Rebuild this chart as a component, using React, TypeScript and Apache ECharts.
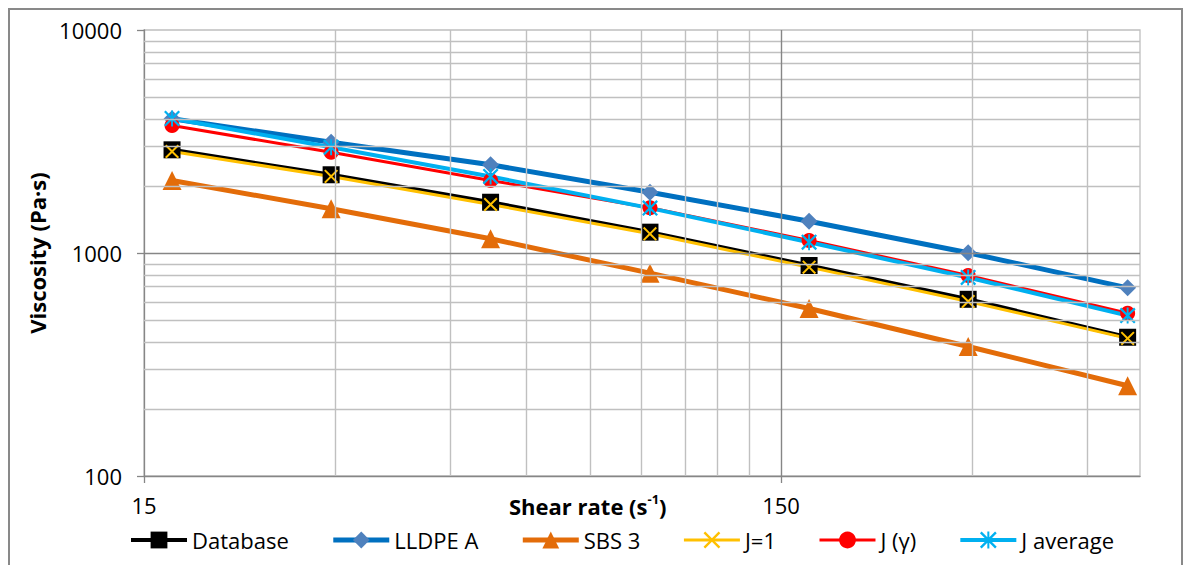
import React, { useEffect, useRef } from "react";
import * as echarts from "echarts";

// Shear rate (s^-1) at each measured point
const shearRate = [16.6, 29.5, 52.5, 93.4, 166, 295, 525];
// Viscosity (Pa·s)
const database = [2902, 2243, 1689, 1240, 879, 620, 419];
const lldpeA = [3998, 3139, 2486, 1873, 1389, 1002, 698];
const sbs3 = [2114, 1579, 1158, 812, 564, 381, 254];
const jOne = [2852, 2204, 1650, 1219, 864, 606, 414];
const jGamma = [3729, 2831, 2114, 1595, 1138, 793, 537];
const jAverage = [4010, 2980, 2204, 1590, 1118, 777, 524];

const seriesNames = ["Database", "LLDPE A", "SBS 3", "J=1", "J (γ)", "J average"];

// Axis ranges and ticks
const xMin = 15;
const xMax = 549;
const xTickLabels = [15, 150];
const yMin = 100;
const yMax = 10000;
const yTickLabels = [100, 1000, 10000];
const xMinorGrid = [30, 45, 60, 75, 90, 105, 120, 135, 300, 450];
const xMajorGrid = [150];
const yMinorGrid = [200, 300, 400, 500, 600, 700, 800, 900, 2000, 3000, 4000, 5000, 6000, 7000, 8000, 9000];
const yMajorGrid = [1000];

const FONT = "Open Sans";
const lx = (v: number) => Math.log10(v / xMin);
const ly = (v: number) => Math.log10(v);
const pts = (ys: number[]) => shearRate.map((x, i) => [lx(x), ly(ys[i])]);

const X_PATH = "M0,1L1,0L5,4L9,0L10,1L6,5L10,9L9,10L5,6L1,10L0,9L4,5Z";
const STAR_PATH = X_PATH + "M4.4,0L5.6,0L5.6,10L4.4,10Z";

export default function App() {
  const ref = useRef<HTMLDivElement>(null);
  useEffect(() => {
    document.body.style.margin = "0";
    document.body.style.overflow = "hidden";
    const chart = echarts.init(ref.current!, undefined, { renderer: "svg" });
    const option: any = {
      animation: false,
      backgroundColor: "#ffffff",
      textStyle: { fontFamily: FONT },
      grid: {
        left: 144,
        top: 30,
        width: 996,
        height: 446,
        show: true,
        borderColor: "#BFBFBF",
        borderWidth: 1.3,
        backgroundColor: "transparent",
      },
      graphic: [
        {
          type: "rect",
          shape: { x: 9, y: 9, width: 1173, height: 620 },
          style: { fill: "none", stroke: "#898989", lineWidth: 2 },
          silent: true,
        },
      ],
      title: {
        text: "{a|Shear rate (s}{b|-1}{a|)}",
        left: 509,
        top: 492,
        padding: 0,
        textStyle: {
          rich: {
            a: { fontSize: 22, fontWeight: "bold", fontFamily: FONT, color: "#000", lineHeight: 28 },
            b: { fontSize: 13, fontWeight: "bold", fontFamily: FONT, color: "#000", verticalAlign: "top", lineHeight: 28 },
          },
        },
      },
      legend: {
        data: seriesNames,
        left: 124,
        top: 524,
        itemWidth: 56,
        itemHeight: 21,
        itemGap: 42,
        lineStyle: { width: "inherit" },
        textStyle: { fontSize: 22, fontFamily: FONT, color: "#000" },
      },
      xAxis: {
        type: "value",
        min: 0,
        max: lx(xMax),
        interval: 1,
        axisLine: { show: true, onZero: false, lineStyle: { color: "#868686", width: 1.3 } },
        axisTick: {
          show: true,
          customValues: xTickLabels.map(lx),
          length: 7,
          lineStyle: { color: "#868686", width: 1.3 },
        },
        axisLabel: {
          customValues: xTickLabels.map(lx),
          formatter: (v: number) => String(Math.round(xMin * Math.pow(10, v))),
          margin: 18,
          fontSize: 22,
          fontFamily: FONT,
          color: "#000",
        },
        splitLine: { show: false },
      },
      yAxis: {
        type: "value",
        min: ly(yMin),
        max: ly(yMax),
        interval: 1,
        name: "Viscosity (Pa·s)",
        nameLocation: "middle",
        nameGap: 88,
        nameRotate: 90,
        nameTextStyle: { fontSize: 22, fontWeight: "bold", fontFamily: FONT, color: "#000" },
        axisLine: { show: true, lineStyle: { color: "#868686", width: 1.3 } },
        axisTick: {
          show: true,
          customValues: yTickLabels.map(ly),
          length: 7,
          lineStyle: { color: "#868686", width: 1.3 },
        },
        axisLabel: {
          formatter: (v: number) => String(Math.round(Math.pow(10, v))),
          margin: 22,
          fontSize: 22,
          fontFamily: FONT,
          color: "#000",
        },
        splitLine: { show: false },
      },
      series: [
        {
          name: "minor-grid",
          type: "line",
          data: [],
          silent: true,
          z: 1,
          markLine: {
            silent: true,
            symbol: ["none", "none"],
            label: { show: false },
            emphasis: { disabled: true },
            lineStyle: { color: "#C0C0C0", width: 1.4, type: "solid" },
            data: [
              ...xMinorGrid.map((v) => ({ xAxis: lx(v) })),
              ...yMinorGrid.map((v) => ({ yAxis: ly(v) })),
            ],
          },
        },
        {
          name: "major-grid",
          type: "line",
          data: [],
          silent: true,
          z: 1,
          markLine: {
            silent: true,
            symbol: ["none", "none"],
            label: { show: false },
            emphasis: { disabled: true },
            lineStyle: { color: "#868686", width: 1.4, type: "solid" },
            data: [
              ...xMajorGrid.map((v) => ({ xAxis: lx(v) })),
              ...yMajorGrid.map((v) => ({ yAxis: ly(v) })),
            ],
          },
        },
        {
          name: "Database",
          type: "line",
          data: pts(database),
          symbol: "rect",
          symbolSize: 17,
          lineStyle: { color: "#000000", width: 4 },
          itemStyle: { color: "#000000" },
          z: 3,
        },
        {
          name: "LLDPE A",
          type: "line",
          data: pts(lldpeA),
          symbol: "diamond",
          symbolSize: 17,
          lineStyle: { color: "#0070C0", width: 5 },
          itemStyle: { color: "#4F81BD" },
          z: 3,
        },
        {
          name: "SBS 3",
          type: "line",
          data: pts(sbs3),
          symbol: "triangle",
          symbolSize: 19,
          lineStyle: { color: "#E36C09", width: 5 },
          itemStyle: { color: "#E36C09" },
          z: 3,
        },
        {
          name: "J=1",
          type: "line",
          data: pts(jOne),
          symbol: "path://" + X_PATH,
          symbolSize: 14,
          lineStyle: { color: "#FFC000", width: 3 },
          itemStyle: { color: "#FFC000" },
          z: 3,
        },
        {
          name: "J (γ)",
          type: "line",
          data: pts(jGamma),
          symbol: "circle",
          symbolSize: 15,
          lineStyle: { color: "#FF0000", width: 3 },
          itemStyle: { color: "#FF0000" },
          z: 3,
        },
        {
          name: "J average",
          type: "line",
          data: pts(jAverage),
          symbol: "path://" + STAR_PATH,
          symbolSize: 16,
          lineStyle: { color: "#00B0F0", width: 4 },
          itemStyle: { color: "#00B0F0" },
          z: 3,
        },
      ],
    };
    chart.setOption(option);
    return () => chart.dispose();
  }, []);
  return <div ref={ref} style={{ width: 1186, height: 565 }} />;
}
